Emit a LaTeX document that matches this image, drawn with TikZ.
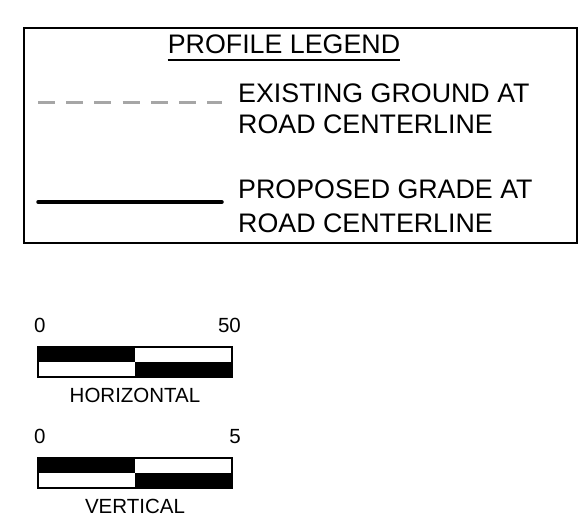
\documentclass[tikz,border=0pt]{standalone}
\usepackage{fontspec}
\setmainfont{Liberation Sans}
\begin{document}
\begin{tikzpicture}[x=1pt,y=-1pt,
  big/.style={inner sep=0pt,font=\fontsize{26.8}{32}\selectfont},
  small/.style={inner sep=0pt,font=\fontsize{20.5}{24}\selectfont},
  barline/.style={line width=2pt}]
\useasboundingbox (0,0) rectangle (588,531);
% legend box
\node[draw,line width=2pt,minimum width=553pt,minimum height=215pt,anchor=north west,inner sep=0pt] (box) at (23,27) {};
\node[big,anchor=base] (title) at (284,53) {PROFILE LEGEND};
\draw[line width=1.5pt] ([yshift=-7pt]title.base west) -- ([yshift=-7pt]title.base east);
\node[big,anchor=base west] (ex1) at (238,102) {EXISTING GROUND AT};
\node[big,anchor=base west] (ex2) at (238,133) {ROAD CENTERLINE};
\node[big,anchor=base west] (pr1) at (238,198) {PROPOSED GRADE AT};
\node[big,anchor=base west] (pr2) at (238,232) {ROAD CENTERLINE};
\coordinate (dA) at (38,102);
\coordinate (dB) at (222,102);
\draw[line width=3pt,color=black!35,dash pattern=on 17pt off 11.2pt] (dA) -- (dB);
\coordinate (sA) at (38,202);
\coordinate (sB) at (222,202);
\draw[line width=3.5pt,line cap=round] (sA) -- (sB);
% horizontal scale
\node[small,anchor=base west] (h0) at (34,332) {0};
\node[small,anchor=base east] (h50) at (241,332) {50};
\fill (38,347) rectangle (135,362);
\fill (135,362) rectangle (232,377);
\draw[barline] (38,347) rectangle (232,377);
\node[small,anchor=base] (hl) at (135,402) {HORIZONTAL};
% vertical scale
\node[small,anchor=base west] (v0) at (34,443) {0};
\node[small,anchor=base east] (v5) at (241,443) {5};
\fill (38,458) rectangle (135,473);
\fill (135,473) rectangle (232,488);
\draw[barline] (38,458) rectangle (232,488);
\node[small,anchor=base] (vl) at (135,513) {VERTICAL};
\end{tikzpicture}
\end{document}
